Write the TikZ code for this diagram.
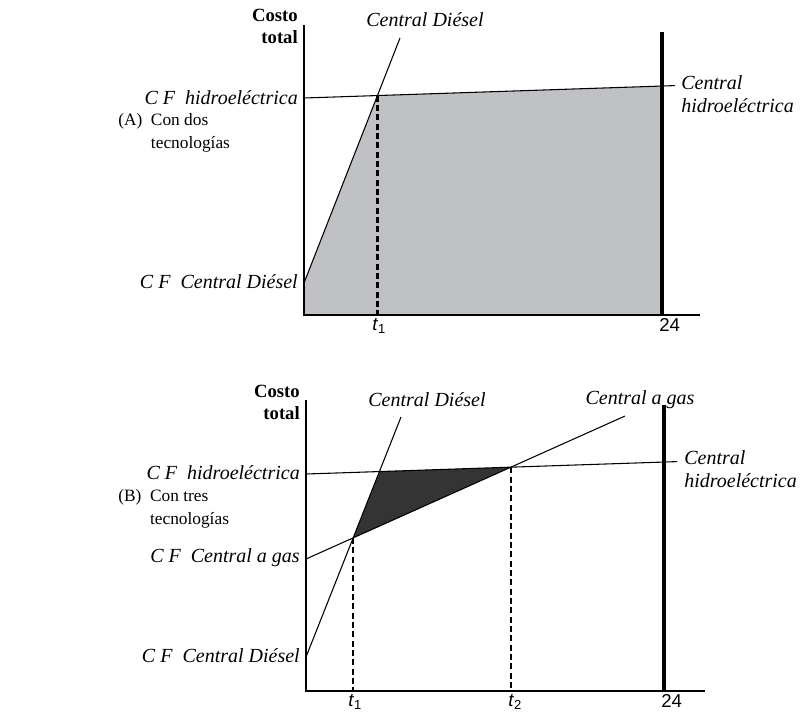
\documentclass[tikz,border=0pt]{standalone}
\usepackage{fontspec}
\setmainfont{Liberation Serif}
\setsansfont{Liberation Sans}
\usepackage{tikz}

\definecolor{areagris}{RGB}{192,193,197}
\definecolor{areaoscura}{RGB}{52,52,52}

\begin{document}
\begin{tikzpicture}[x=0.75pt,y=-0.75pt,
  eje/.style={line width=1.6pt},
  limite/.style={line width=2.6pt},
  recta/.style={line width=0.8pt},
  guia/.style={line width=1.7pt,dash pattern=on 4.5pt off 2.5pt},
  etq/.style={font=\fontsize{15}{17.5}\selectfont\itshape,inner sep=0pt},
  titulo/.style={font=\fontsize{14}{16.5}\selectfont\bfseries,align=right,inner sep=0pt},
  grupo/.style={font=\fontsize{13}{17}\selectfont,align=left,inner sep=0pt},
  hora/.style={font=\fontsize{14}{16}\selectfont\sffamily,inner sep=0pt,anchor=north west}]
\useasboundingbox (0,0) rectangle (805,715);

%% (A) dos tecnologias
\coordinate (oA) at (304,315);
\coordinate (yA) at (304,25);
\coordinate (xA) at (700,315);
\coordinate (hA0) at (304,98);
\coordinate (hA1) at (662,86);
\coordinate (hA2) at (675,85.6);
\coordinate (dA0) at (304,283);
\coordinate (dA1) at (400,38);
\coordinate (sA) at (intersection of hA0--hA1 and dA0--dA1);
\coordinate (fA) at (662,315);

\fill[areagris] (oA) -- (dA0) -- (sA) -- (hA1) -- (fA) -- cycle;
\draw[guia] (sA) -- (sA |- oA);
\draw[recta] (hA0) -- (hA2);
\draw[recta] (dA0) -- (dA1);
\draw[limite] (662,32) -- (fA);
\draw[eje] (yA) -- (oA) -- (xA);

\node[titulo,anchor=east] (costoA) at (298,26) {Costo\\total};
\node[etq] (dieselA) at (425,20) {Central Diésel};
\node[etq,anchor=east] (cfhA) at (298,98) {C F\enspace hidroeléctrica};
\node[etq,anchor=west,align=left] (hidroA) at (681,94) {Central\\hidroeléctrica};
\node[etq,anchor=east] (cfdA) at (298,282) {C F\enspace Central Diésel};
\node[grupo,anchor=west] (grupoA) at (118,133) {(A)\enspace Con dos\\\hphantom{(A)\enspace}tecnologías};
\node[hora] (t1A) at (372,318) {\textit{t}\textsubscript{1}};
\node[hora] (fin24A) at (659,318) {24};

%% (B) tres tecnologias
\coordinate (oB) at (306,691);
\coordinate (yB) at (306,400);
\coordinate (xB) at (705,691);
\coordinate (hB0) at (306,474);
\coordinate (hB1) at (664,462);
\coordinate (hB2) at (677,461.6);
\coordinate (dB0) at (306,657);
\coordinate (dB1) at (401,417);
\coordinate (gB0) at (306,559);
\coordinate (gB1) at (625,416);
\coordinate (sB1) at (intersection of gB0--gB1 and dB0--dB1);
\coordinate (sB2) at (intersection of gB0--gB1 and hB0--hB1);
\coordinate (sB3) at (intersection of dB0--dB1 and hB0--hB1);

\fill[areaoscura] (sB1) -- (sB3) -- (sB2) -- cycle;
\draw[guia] (sB1) -- (sB1 |- oB);
\draw[guia] (sB2) -- (sB2 |- oB);
\draw[recta] (hB0) -- (hB2);
\draw[recta] (dB0) -- (dB1);
\draw[recta] (gB0) -- (gB1);
\draw[limite] (664,405) -- (664,691);
\draw[eje] (yB) -- (oB) -- (xB);

\node[titulo,anchor=east] (costoB) at (300,402) {Costo\\total};
\node[etq] (dieselB) at (427,400) {Central Diésel};
\node[etq] (gasB) at (640,400) {Central a gas};
\node[etq,anchor=east] (cfhB) at (300,473) {C F\enspace hidroeléctrica};
\node[etq,anchor=west,align=left] (hidroB) at (684,469) {Central\\hidroeléctrica};
\node[etq,anchor=east] (cfgB) at (300,558) {C F\enspace Central a gas};
\node[etq,anchor=east] (cfdB) at (300,656) {C F\enspace Central Diésel};
\node[grupo,anchor=west] (grupoB) at (118,509) {(B)\enspace Con tres\\\hphantom{(B)\enspace}tecnologías};
\node[hora] (t1B) at (348,694) {\textit{t}\textsubscript{1}};
\node[hora] (t2B) at (508,694) {\textit{t}\textsubscript{2}};
\node[hora] (fin24B) at (661,694) {24};
\end{tikzpicture}
\end{document}
